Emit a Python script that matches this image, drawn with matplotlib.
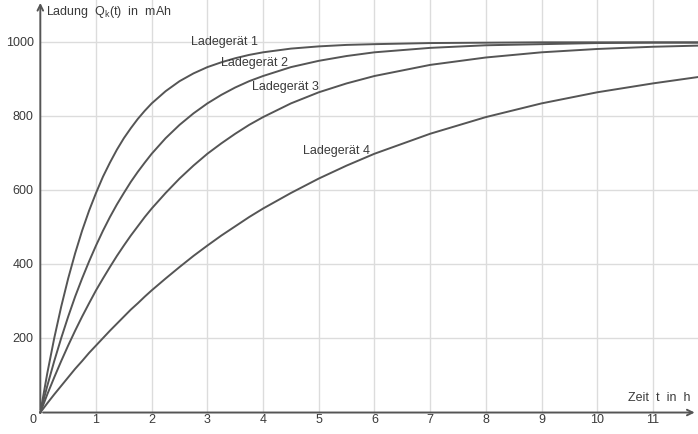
import numpy as np
import matplotlib
matplotlib.use('Agg')
import matplotlib.pyplot as plt

plt.rcParams['font.family'] = ['Liberation Sans', 'DejaVu Sans']

t = [0, 0.125, 0.25, 0.375, 0.5, 0.625, 0.75, 0.875, 1, 1.125, 1.25, 1.375,
     1.5, 1.625, 1.75, 1.875, 2, 2.25, 2.5, 2.75, 3, 3.25, 3.5, 3.75, 4,
     4.5, 5, 5.5, 6, 7, 8, 9, 10, 11, 11.8]
q1 = [0, 106, 201, 286, 362, 430, 491, 545, 593, 637, 675, 710, 741, 768,
      793, 815, 835, 868, 895, 916, 933, 946, 957, 966, 973, 983, 989, 993,
      995, 998, 999, 1000, 1000, 1000, 1000]
q2 = [0, 72, 139, 201, 259, 313, 362, 408, 451, 491, 528, 562, 593, 623,
      650, 675, 699, 741, 777, 808, 835, 858, 878, 895, 909, 933, 950, 963,
      973, 985, 992, 995, 998, 999, 999]
q3 = [0, 49, 95, 139, 181, 221, 259, 295, 330, 362, 393, 423, 451, 478,
      503, 528, 551, 593, 632, 667, 699, 727, 753, 777, 798, 835, 865, 889,
      909, 939, 959, 973, 982, 988, 991]
q4 = [0, 25, 49, 72, 95, 118, 139, 161, 181, 201, 221, 240, 259, 278,
      295, 313, 330, 362, 393, 423, 451, 478, 503, 528, 551, 593, 632, 667,
      699, 753, 798, 835, 865, 889, 906]
kurven = [q1, q2, q3, q4]
namen = ['Ladegerät 1', 'Ladegerät 2', 'Ladegerät 3', 'Ladegerät 4']
name_pos = [(2.71, 1003), (3.25, 946), (3.81, 881), (4.72, 708)]

xticks = list(range(0, 12))
yticks = [200, 400, 600, 800, 1000]

x0, x1 = -0.724, 11.81
y0, y1 = -58, 1117

fig = plt.figure(figsize=(6.98, 4.35), dpi=100)
ax = fig.add_axes([0, 0, 1, 1])
ax.set_xlim(x0, x1)
ax.set_ylim(y0, y1)
ax.axis('off')

gridcol = '#dcdcdc'
ax.vlines(xticks[1:], 0, y1, color=gridcol, lw=1, zorder=1)
ax.hlines(yticks, 0, x1, color=gridcol, lw=1, zorder=1)

# Achsen mit Pfeilen
achse = dict(arrowstyle='->', color='#555555', lw=1.4, mutation_scale=10)
ax.annotate('', xy=(x1 - 0.01, 0), xytext=(0, 0), arrowprops=achse, zorder=3)
ax.annotate('', xy=(0, y1 - 3), xytext=(0, 0), arrowprops=achse, zorder=3)

txtcol = '#3a3a3a'
for xt in xticks:
    lx = xt if xt > 0 else -0.13
    ax.text(lx, -18, str(xt), ha='center', va='center', fontsize=9, color=txtcol)
for yt in yticks:
    ax.text(-0.12, yt, str(yt), ha='right', va='center', fontsize=9, color=txtcol)

ax.text(0.1, y1 - 32, r'Ladung  Q$_\mathregular{k}$(t)  in  mAh', ha='left',
        va='center', fontsize=9, color=txtcol)
ax.text(11.67, 43, 'Zeit  t  in  h', ha='right', va='center', fontsize=9, color=txtcol)

for q, name, pos in zip(kurven, namen, name_pos):
    ax.plot(t, q, color='#555555', lw=1.4, zorder=2)
    ax.text(pos[0], pos[1], name, ha='left', va='center', fontsize=9, color=txtcol)

fig.savefig('out.png', dpi=100)
